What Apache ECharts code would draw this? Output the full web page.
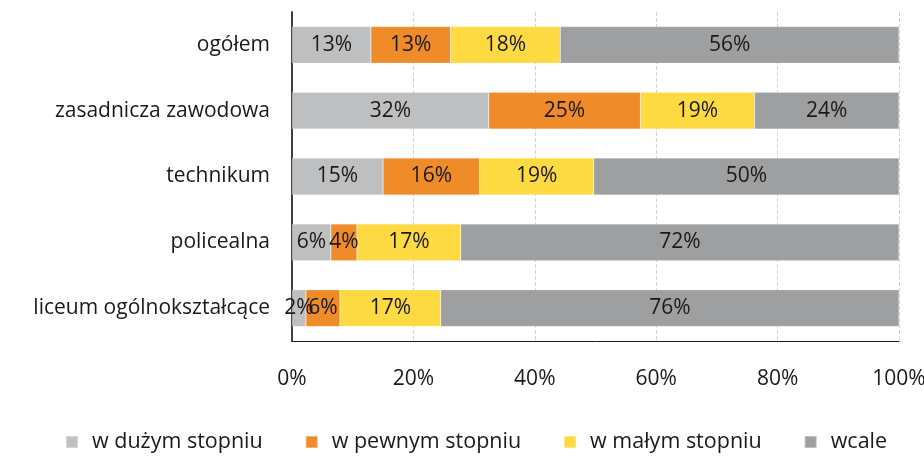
<!DOCTYPE html>
<html>
<head>
<meta charset="utf-8">
<script src="https://cdn.jsdelivr.net/npm/echarts@6/dist/echarts.min.js"></script>
<style>html,body{margin:0;padding:0;background:#fff}#main{width:924px;height:456px}</style>
</head>
<body>
<div id="main"></div>
<script>
var categories = ['ogółem', 'zasadnicza zawodowa', 'technikum', 'policealna', 'liceum ogólnokształcące'];
var seriesNames = ['w dużym stopniu', 'w pewnym stopniu', 'w małym stopniu', 'wcale'];
var duzym = [13.0, 32.4, 15.0, 6.4, 2.3];
var pewnym = [13.1, 25.0, 15.9, 4.3, 5.6];
var malym = [18.1, 18.8, 18.8, 17.1, 16.6];
var wcale = [55.8, 23.8, 50.3, 72.2, 75.5];
var xTicks = [0, 20, 40, 60, 80, 100];
var colors = ['#bebfc1', '#f08b29', '#fdd942', '#9e9fa1'];

var font = 'Open Sans';
var myChart = echarts.init(document.getElementById('main'));
var data = [duzym, pewnym, malym, wcale];

var option = {
    animation: false,
    textStyle: {fontFamily: font},
    grid: {left: 292, right: 25, top: 12, bottom: 115, outerBoundsMode: 'none'},
    legend: {
        top: 426,
        left: 60,
        itemWidth: 12,
        itemHeight: 12,
        itemGap: 42,
        icon: 'rect',
        textStyle: {fontFamily: font, fontSize: 21.5, color: '#1a1a1a', padding: [0, 0, 0, 9]},
        data: seriesNames
    },
    xAxis: {
        type: 'value',
        min: xTicks[0],
        max: xTicks[xTicks.length - 1],
        interval: 20,
        axisLine: {show: true, lineStyle: {color: '#1a1a1a', width: 1}},
        axisTick: {show: false},
        splitLine: {show: true, lineStyle: {color: '#d4d4d4', type: 'dashed'}},
        axisLabel: {
            formatter: '{value}%',
            margin: 28,
            fontSize: 21,
            color: '#1a1a1a',
            fontFamily: font
        }
    },
    yAxis: {
        type: 'category',
        inverse: true,
        data: categories,
        axisLine: {show: true, lineStyle: {color: '#404040', width: 2}},
        axisTick: {show: false},
        axisLabel: {margin: 22, fontSize: 21, color: '#1a1a1a', fontFamily: font}
    },
    series: data.map(function (vals, i) {
        return {
            name: seriesNames[i],
            type: 'bar',
            stack: 'total',
            barWidth: '56%',
            itemStyle: {color: colors[i], borderColor: 'rgba(255,255,255,0.35)', borderWidth: 0.5},
            label: {
                show: true,
                position: 'inside',
                fontSize: 21,
                color: '#1a1a1a',
                fontFamily: font,
                formatter: function (p) { return Math.round(p.value) + '%'; }
            },
            data: vals
        };
    })
};
myChart.setOption(option);
</script>
</body>
</html>
